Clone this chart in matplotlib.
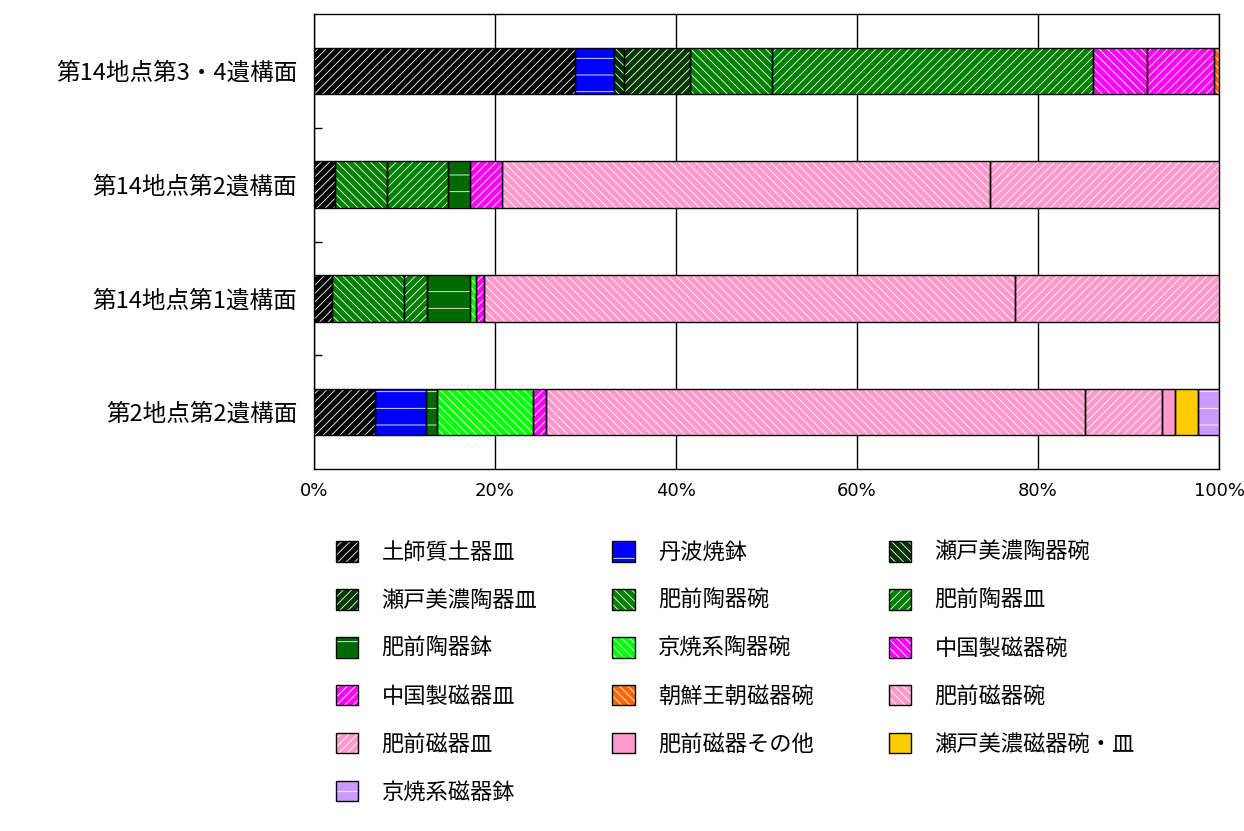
import matplotlib
matplotlib.use('Agg')
import matplotlib.pyplot as plt
from matplotlib.patches import Patch
from matplotlib.ticker import FixedLocator, FuncFormatter
import numpy as np

plt.rcParams['font.family'] = ['Noto Sans CJK JP', 'DejaVu Sans']
plt.rcParams['hatch.linewidth'] = 0.6

# 遺構面（上から順）
categories = ['第14地点第3・4遺構面', '第14地点第2遺構面', '第14地点第1遺構面', '第2地点第2遺構面']

# 品目ごとの構成比（%） categories と同じ並び
series_names = ['土師質土器皿', '丹波焼鉢', '瀬戸美濃陶器碗',
                '瀬戸美濃陶器皿', '肥前陶器碗', '肥前陶器皿',
                '肥前陶器鉢', '京焼系陶器碗', '中国製磁器碗',
                '中国製磁器皿', '朝鮮王朝磁器碗', '肥前磁器碗',
                '肥前磁器皿', '肥前磁器その他', '瀬戸美濃磁器碗・皿',
                '京焼系磁器鉢']
hajishitsu_sara = [28.8, 2.3, 2.0, 6.7]
tamba_hachi = [4.3, 0, 0, 5.7]
setomino_touki_wan = [1.2, 0, 0, 0]
setomino_touki_sara = [7.2, 0, 0, 0]
hizen_touki_wan = [9.1, 5.8, 7.9, 0]
hizen_touki_sara = [35.5, 6.7, 2.6, 0]
hizen_touki_hachi = [0, 2.4, 4.7, 1.2]
kyoyaki_touki_wan = [0, 0, 0.7, 10.6]
chugoku_jiki_wan = [5.9, 0, 0, 0]
chugoku_jiki_sara = [7.4, 3.6, 0.9, 1.4]
chosen_jiki_wan = [0.6, 0, 0, 0]
hizen_jiki_wan = [0, 53.9, 58.7, 59.6]
hizen_jiki_sara = [0, 25.3, 22.5, 8.5]
hizen_jiki_other = [0, 0, 0, 1.4]
setomino_jiki = [0, 0, 0, 2.6]
kyoyaki_jiki_hachi = [0, 0, 0, 2.3]

values = [hajishitsu_sara, tamba_hachi, setomino_touki_wan,
          setomino_touki_sara, hizen_touki_wan, hizen_touki_sara,
          hizen_touki_hachi, kyoyaki_touki_wan, chugoku_jiki_wan,
          chugoku_jiki_sara, chosen_jiki_wan, hizen_jiki_wan,
          hizen_jiki_sara, hizen_jiki_other, setomino_jiki,
          kyoyaki_jiki_hachi]

colors = ['#000000', '#0000ff', '#003300',
          '#003800', '#008000', '#008000',
          '#006a00', '#00ff00', '#ff00ff',
          '#ff00ff', '#ff6600', '#ff99cc',
          '#ff99cc', '#ff99cc', '#ffcc00',
          '#cc99ff']
hatches = ['////', '-', '\\\\\\\\',
           '////', '\\\\\\\\', '////',
           '-', '\\\\\\\\', '\\\\\\\\',
           '////', '\\\\\\\\', '\\\\\\\\',
           '////', '', '',
           '-']

fig = plt.figure(figsize=(12.44, 8.31), dpi=100)
ax = fig.add_axes([314 / 1244, 1 - 469 / 831, 905 / 1244, 455 / 831])

ypos = np.arange(len(categories))[::-1]
left = np.zeros(len(categories))
handles = []
for name, vals, c, h in zip(series_names, values, colors, hatches):
    vals = np.array(vals, dtype=float)
    m = vals > 0
    ax.barh(ypos[m], vals[m], left=left[m], height=0.41, color=c,
            edgecolor='white', linewidth=0, hatch=h, zorder=3)
    ax.barh(ypos[m], vals[m], left=left[m], height=0.41, fill=False,
            edgecolor='black', linewidth=1, zorder=4)
    left += vals
    handles.append((Patch(facecolor=c, edgecolor='white', linewidth=0, hatch=h),
                    Patch(facecolor='none', edgecolor='black', linewidth=1)))

ax.set_xlim(0, 100)
ax.set_ylim(-0.5, len(categories) - 0.5)
ax.set_xticks([0, 20, 40, 60, 80, 100])
ax.xaxis.set_major_formatter(FuncFormatter(lambda v, p: f'{v:.0f}%'))
ax.grid(axis='x', color='black', linewidth=1, zorder=0)
ax.tick_params(axis='x', length=0, pad=9, labelsize=13)
for t in ax.get_xticklabels():
    t.set_family(['Liberation Sans Narrow', 'DejaVu Sans'])

ax.set_yticks(ypos)
ax.set_yticklabels(categories, fontsize=17)
ax.tick_params(axis='y', length=0, pad=12)
ax.yaxis.set_minor_locator(FixedLocator([0.5, 1.5, 2.5]))
ax.tick_params(axis='y', which='minor', direction='in', length=6, width=1)
for s in ax.spines.values():
    s.set_color('black')
    s.set_linewidth(1)

# 凡例は行方向に並ぶので列方向の順に並べ替える
order = [0, 3, 6, 9, 12, 15, 1, 4, 7, 10, 13, 2, 5, 8, 11, 14]
fig.legend([handles[i] for i in order], [series_names[i] for i in order],
           loc='upper left', bbox_to_anchor=(336 / 1244, 1 - 541 / 831),
           ncol=3, frameon=False, fontsize=16, borderpad=0, borderaxespad=0,
           handlelength=1.0, handleheight=1.05, handletextpad=1.05,
           columnspacing=3.38, labelspacing=1.12)

fig.savefig('out.png', dpi=100)
